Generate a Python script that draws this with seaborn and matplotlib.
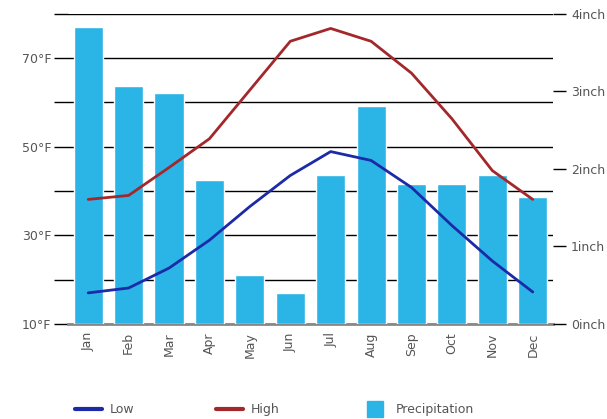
import numpy as np
import pandas as pd
import matplotlib
matplotlib.use("Agg")
import matplotlib.pyplot as plt
import seaborn as sns
from matplotlib.lines import Line2D

# data
months = ["Jan", "Feb", "Mar", "Apr", "May", "Jun",
          "Jul", "Aug", "Sep", "Oct", "Nov", "Dec"]
low_f = [17.0, 18.1, 22.6, 28.9, 36.5, 43.5, 48.9, 46.9, 40.8, 32.2, 24.2, 17.2]
high_f = [38.1, 39.0, 45.3, 51.8, 62.8, 73.8, 76.7, 73.8, 66.6, 56.3, 44.6, 38.1]
precip_in = [3.83, 3.07, 2.98, 1.86, 0.63, 0.40, 1.92, 2.81, 1.81, 1.81, 1.92, 1.64]

temp_ticks = [10, 20, 30, 40, 50, 60, 70, 80]
temp_labels = ["10°F", "", "30°F", "", "50°F", "", "70°F", ""]
rain_ticks = [0, 1, 2, 3, 4]
rain_labels = ["0inch", "1inch", "2inch", "3inch", "4inch"]

c_low = "#1c2aa8"
c_high = "#a3282c"
c_bar = "#2bb4e6"
c_text = "#555555"

df = pd.DataFrame({"month": months, "low": low_f, "high": high_f, "precip": precip_in})

sns.set_style("white")
plt.rcParams["font.family"] = ["DejaVu Sans"]

fig = plt.figure(figsize=(6.07, 4.19), dpi=100)
ax = fig.add_axes([0.112, 0.227, 0.799, 0.740])

# left axis: grid + temperature ticks
ax.set_ylim(10, 80)
ax.set_yticks(temp_ticks)
ax.set_yticklabels(temp_labels)
ax.grid(axis="y", color="black", lw=1)
ax.grid(axis="x", visible=False)
for s in ["left", "right", "top"]:
    ax.spines[s].set_visible(False)
ax.spines["bottom"].set_color("#888888")
ax.spines["bottom"].set_linewidth(2)
ax.spines["bottom"].set_zorder(5)
ax.tick_params(axis="y", length=10, width=1, color="black", labelsize=9,
               labelcolor=c_text, pad=2)

# bars on right axis
ax2 = ax.twinx()
sns.barplot(data=df, x="month", y="precip", color=c_bar, width=0.72,
            saturation=1, ax=ax2)
ax2.set_ylim(0, 4)
ax2.set_yticks(rain_ticks)
ax2.set_yticklabels(rain_labels)
ax2.set_ylabel("")
ax2.set_xlabel("")
for s in ["left", "right", "top", "bottom"]:
    ax2.spines[s].set_visible(False)
ax2.tick_params(axis="y", length=9, width=1, color="black", labelsize=9,
                labelcolor=c_text, pad=4)

# lines on top
ax3 = ax.twinx()
sns.lineplot(data=df, x="month", y="low", color=c_low, lw=2, ax=ax3, sort=False)
sns.lineplot(data=df, x="month", y="high", color=c_high, lw=2, ax=ax3, sort=False)
ax3.set_ylim(10, 80)
ax3.axis("off")

ax.set_xlim(-0.5, 11.5)
ax2.set_xlim(-0.5, 11.5)
ax3.set_xlim(-0.5, 11.5)
ax.set_xticks(range(len(months)))
ax.set_xticklabels(months, rotation=90)
ax.tick_params(axis="x", length=0, labelsize=9, labelcolor=c_text, pad=6)
ax2.tick_params(axis="x", bottom=False, labelbottom=False)
ax.set_xlabel("")

handles = [Line2D([], [], color=c_low, lw=3),
           Line2D([], [], color=c_high, lw=3),
           Line2D([], [], color=c_bar, marker="s", ms=12, ls="")]
leg = fig.legend(handles, ["Low", "High", "Precipitation"], ncol=3,
                 loc="lower left", bbox_to_anchor=(0.105, -0.02), frameon=False,
                 fontsize=9, columnspacing=6.5, handlelength=2.2,
                 handletextpad=0.6)
for t in leg.get_texts():
    t.set_color(c_text)

fig.savefig("out.png", dpi=100)
